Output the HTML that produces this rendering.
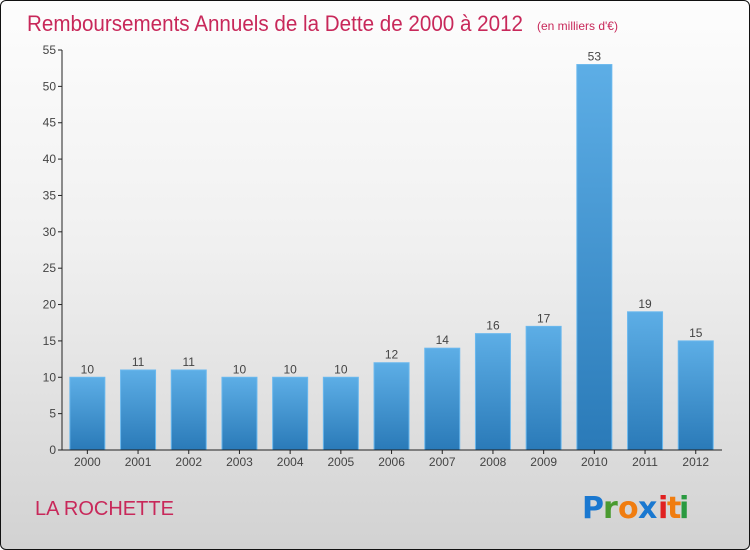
<!DOCTYPE html>
<html><head><meta charset="utf-8"><style>
body{margin:0}
#c{position:relative;width:748px;height:548px;border:1px solid #111;border-radius:6px;overflow:hidden;background:linear-gradient(#fdfdfd,#f0f0f0 45%,#d2d2d2);font-family:"Liberation Sans",sans-serif}
</style></head><body>
<div id="c">
<svg id="s" width="748" height="548">
<text x="26" y="30" font-size="22" fill="#c8285a" textLength="496" lengthAdjust="spacingAndGlyphs">Remboursements Annuels de la Dette de 2000 à 2012</text>
<text x="536" y="29" font-size="12" fill="#c8285a">(en milliers d'€)</text>
<text x="34" y="514" font-size="20" fill="#c8285a">LA ROCHETTE</text>
<g font-size="30" font-weight="bold" font-family="'DejaVu Sans',sans-serif">
<text x="581" y="517" fill="#1a78d0">P</text><text x="602" y="517" fill="#4a9a30">r</text><text x="617" y="517" fill="#f07d10">o</text><text x="637" y="517" fill="#1a78d0">x</text><text x="657" y="517" fill="#e02020">i</text><text x="666" y="517" fill="#f07d10">t</text><text x="678" y="517" fill="#2a9a40">i</text>
</g>
<defs><linearGradient id="g" x1="0" y1="0" x2="0" y2="1"><stop offset="0" stop-color="#5daee6"/><stop offset="1" stop-color="#2a7ab8"/></linearGradient></defs>
<g id="plot"></g>
</svg>
</div>
<script>
const categories=["2000","2001","2002","2003","2004","2005","2006","2007","2008","2009","2010","2011","2012"];
const values=[10,11,11,10,10,10,12,14,16,17,53,19,15];
const yTicks=[0,5,10,15,20,25,30,35,40,45,50,55];
const NS="http://www.w3.org/2000/svg";
const g=document.getElementById('plot');
const x0=61,band=50.7,yBase=449,yTop=49,yMax=55,bw=35;
const y=v=>yBase-(v/yMax)*(yBase-yTop);
const xc=i=>x0+band*(i+0.5);
function mk(t,a){const e=document.createElementNS(NS,t);for(const k in a)e.setAttribute(k,a[k]);g.appendChild(e);return e;}
yTicks.forEach(t=>{
 const l=mk('line',{x1:57,x2:61,y1:y(t),y2:y(t),stroke:'#222'});
 
 
 const tx=mk('text',{x:55,y:y(t)+4,'text-anchor':'end','font-size':12,fill:'#444'});
 tx.textContent=t;
 
 
});
values.forEach((v,i)=>{
 const r=mk('rect',{x:xc(i)-bw/2,y:y(v),width:bw,height:yBase-y(v),fill:'url(#g)',stroke:'#6ab8ee','stroke-width':1});
 
 
 const t=mk('text',{x:xc(i),y:y(v)-4,'text-anchor':'middle','font-size':12,fill:'#444'});
 t.textContent=v;
 
 
 const c=mk('text',{x:xc(i),y:yBase+16,'text-anchor':'middle','font-size':12,fill:'#444'});
 c.textContent=categories[i];
 
 
 const tk=mk('line',{x1:xc(i),x2:xc(i),y1:yBase,y2:yBase+4,stroke:'#222'});
 
 
});
const ya=mk('line',{x1:61,x2:61,y1:yTop,y2:yBase,stroke:'#222'});


const xa=mk('line',{x1:61,x2:721,y1:yBase,y2:yBase,stroke:'#222'});


</script>
</body></html>
